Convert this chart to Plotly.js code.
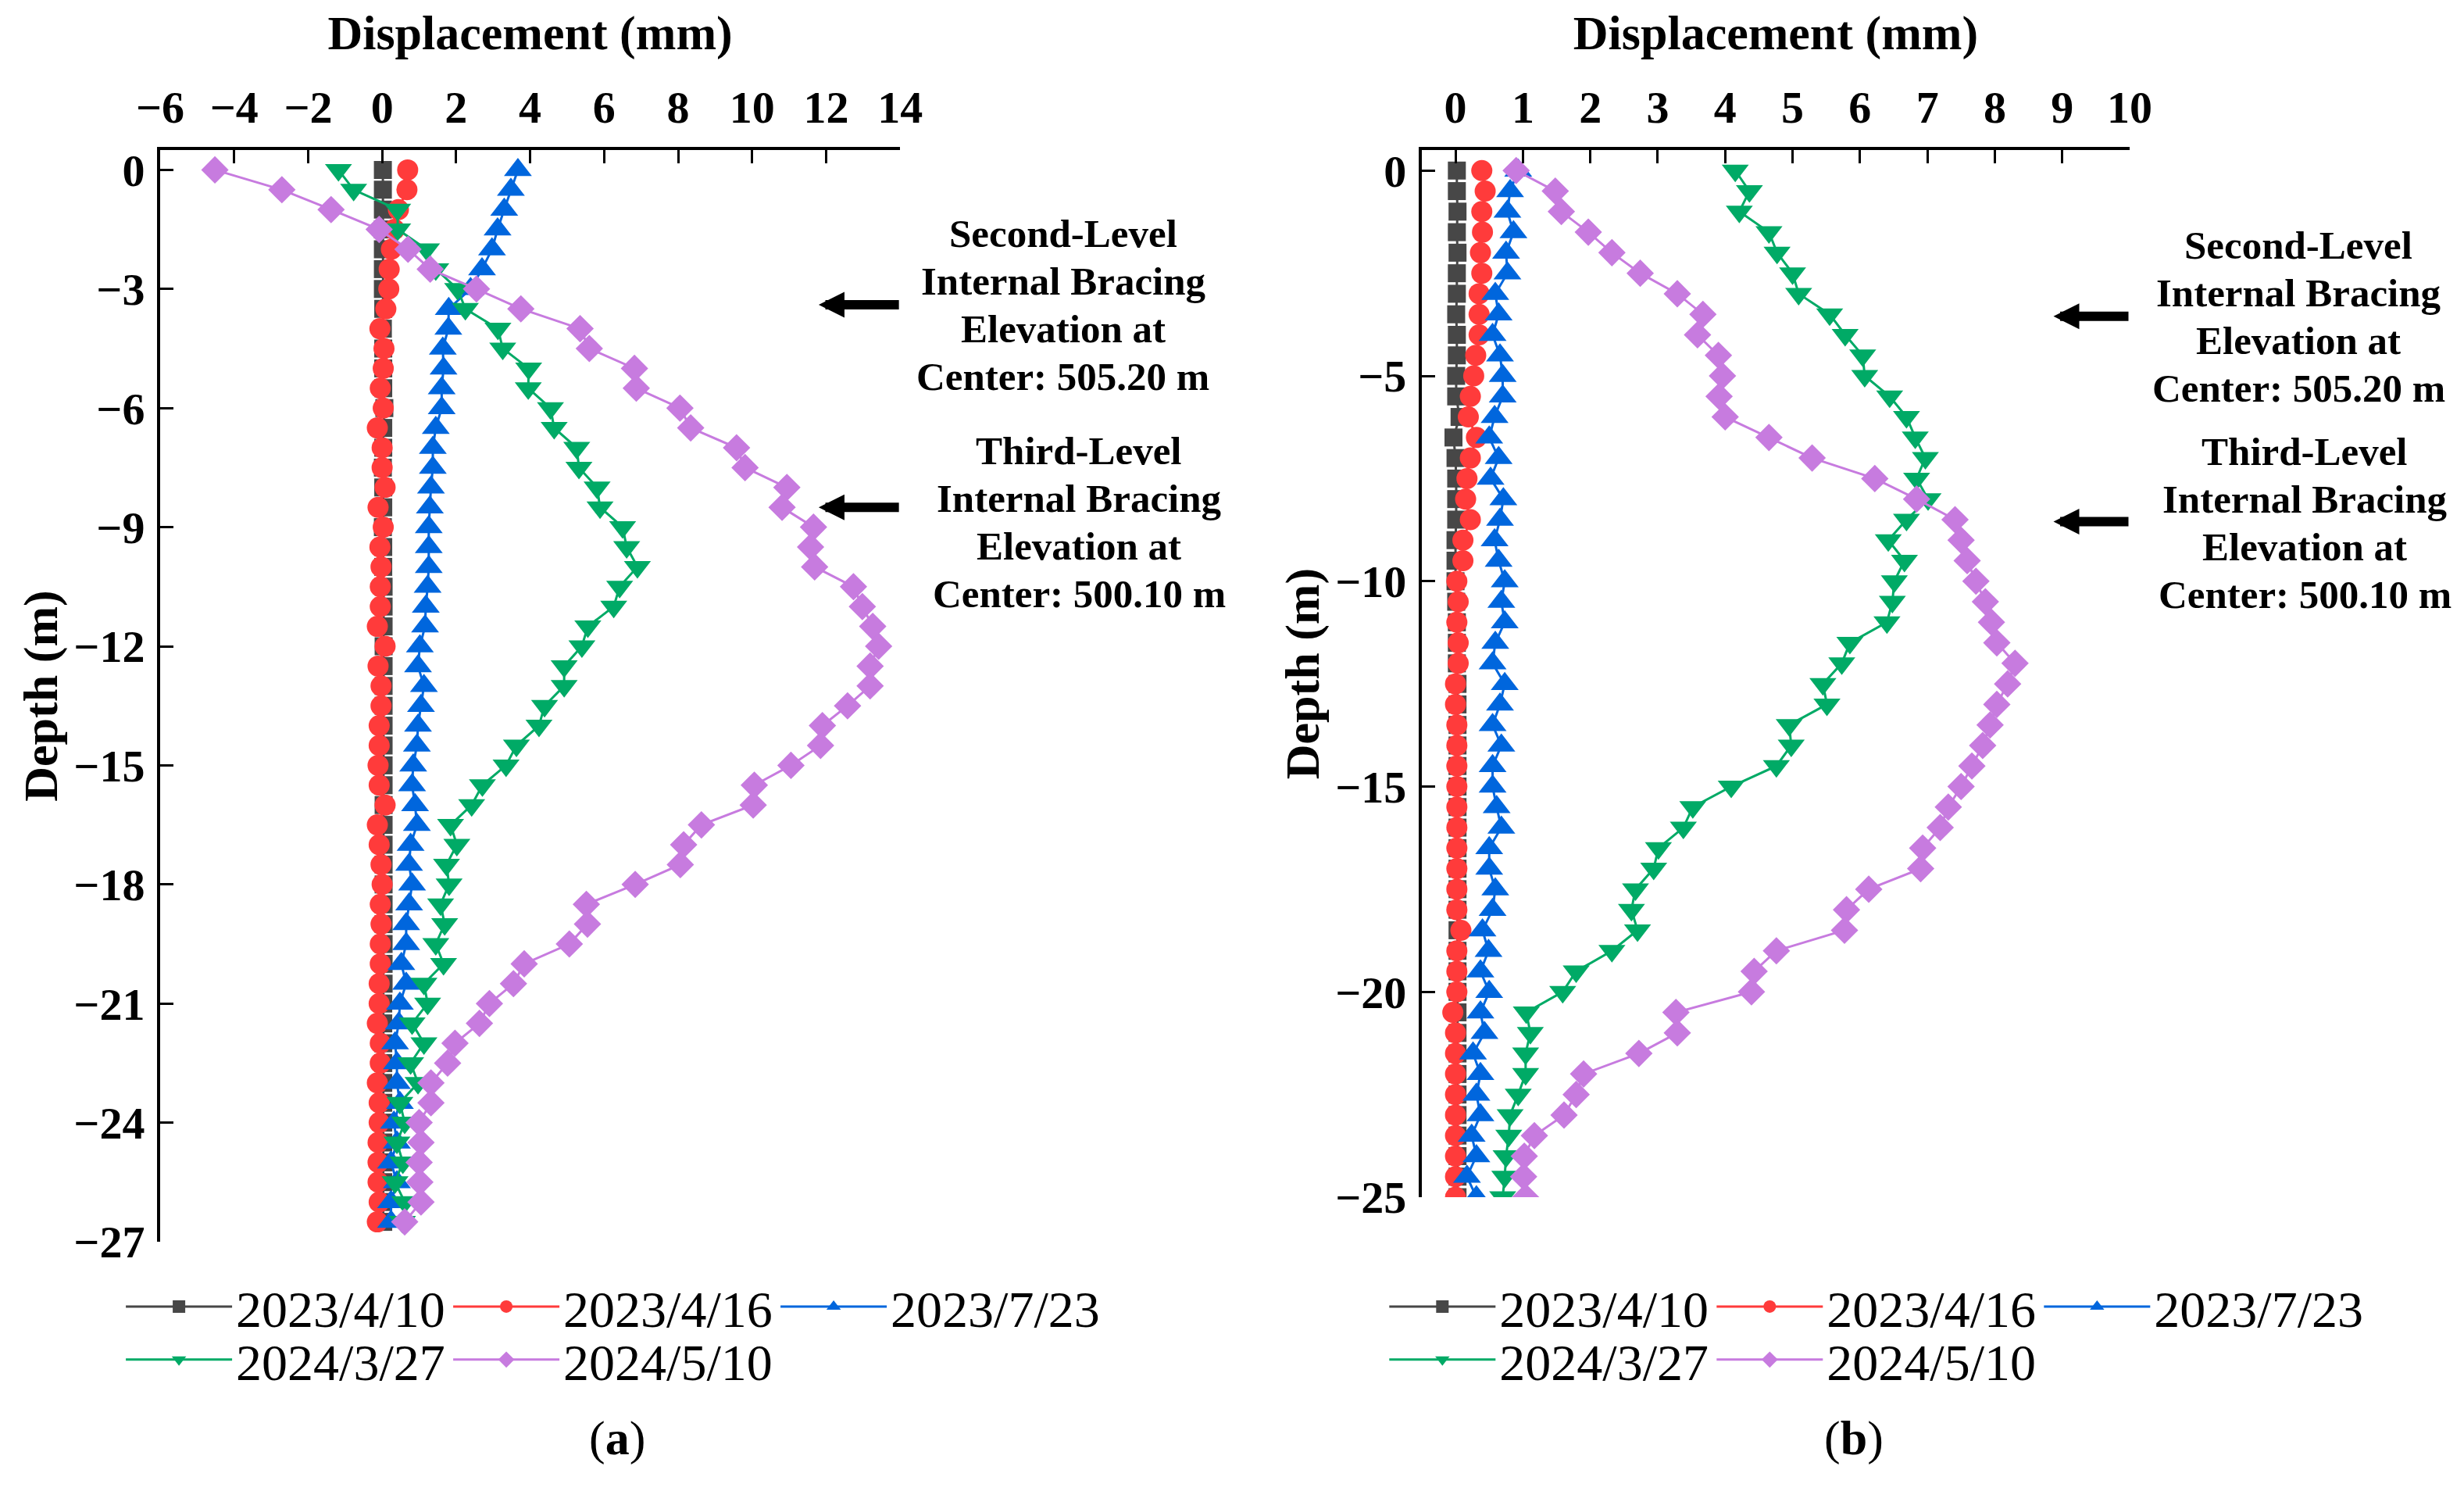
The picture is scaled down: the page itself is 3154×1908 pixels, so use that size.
<!DOCTYPE html>
<html>
<head>
<meta charset="utf-8">
<script src="https://cdn.plot.ly/plotly-3.0.1.min.js"></script>
<style>
  html, body { margin: 0; padding: 0; background: #fff; }
  #myDiv { width: 3154px; height: 1908px; }
</style>
</head>
<body>
<div id="myDiv"></div>
<script>
// measuring dates (legend labels)
let dates = ["2023/4/10", "2023/4/16", "2023/7/23", "2024/3/27", "2024/5/10"];

// depth of the measuring points (m)
let depthA = [0, -0.5, -1, -1.5, -2, -2.5, -3, -3.5, -4, -4.5, -5, -5.5, -6, -6.5, -7, -7.5, -8, -8.5, -9, -9.5,
  -10, -10.5, -11, -11.5, -12, -12.5, -13, -13.5, -14, -14.5, -15, -15.5, -16, -16.5, -17, -17.5, -18, -18.5, -19, -19.5,
  -20, -20.5, -21, -21.5, -22, -22.5, -23, -23.5, -24, -24.5, -25, -25.5, -26, -26.5];
let depthB = [0, -0.5, -1, -1.5, -2, -2.5, -3, -3.5, -4, -4.5, -5, -5.5, -6, -6.5, -7, -7.5, -8, -8.5, -9, -9.5,
  -10, -10.5, -11, -11.5, -12, -12.5, -13, -13.5, -14, -14.5, -15, -15.5, -16, -16.5, -17, -17.5, -18, -18.5, -19, -19.5,
  -20, -20.5, -21, -21.5, -22, -22.5, -23, -23.5, -24, -24.5, -25];

// panel (a) displacement (mm)
let a0410 = [0.02, 0.02, 0.02, 0.02, 0.02, 0.02, 0.02, 0.03, 0.02, 0.03, 0.03, 0.03, 0.06, 0.03, 0.03, 0.02, 0.03, 0.03, 0.02, 0.03,
  0.03, 0.04, 0.04, 0.04, 0.04, 0.04, 0.04, 0.04, 0.04, 0.04, 0.04, 0.04, 0.04, 0.04, 0.04, 0.04, 0.04, 0.04, 0.04, 0.04,
  0.04, 0.04, 0.03, 0.03, 0.03, 0.03, 0.03, 0.03, 0.03, 0.03, 0.03, 0.03, 0.03, 0.03];
let a0416 = [0.69, 0.67, 0.44, 0.33, 0.25, 0.19, 0.18, 0.1, -0.06, 0.05, 0.03, -0.05, 0.03, -0.13, 0, 0, 0.08, -0.11, 0.03, -0.06,
  -0.03, -0.05, -0.05, -0.13, 0.08, -0.11, -0.03, -0.03, -0.08, -0.08, -0.11, -0.08, 0.08, -0.13, -0.08, -0.03, 0, -0.05, -0.03, -0.05,
  -0.05, -0.08, -0.08, -0.13, -0.05, -0.05, -0.13, -0.08, -0.08, -0.11, -0.11, -0.11, -0.08, -0.13];
let a0723 = [3.67, 3.48, 3.3, 3.12, 2.97, 2.7, 2.39, 1.8, 1.79, 1.64, 1.66, 1.61, 1.61, 1.45, 1.37, 1.37, 1.32, 1.29, 1.26, 1.26,
  1.26, 1.23, 1.18, 1.16, 1.02, 0.97, 1.13, 1.05, 0.97, 0.94, 0.84, 0.81, 0.89, 0.94, 0.77, 0.73, 0.81, 0.73, 0.65, 0.65,
  0.52, 0.65, 0.48, 0.45, 0.35, 0.4, 0.4, 0.48, 0.32, 0.4, 0.24, 0.4, 0.24, 0.24];
let a0327 = [-1.18, -0.77, 0.42, 0.42, 1.2, 1.45, 2.04, 2.25, 3.13, 3.26, 3.96, 3.95, 4.55, 4.65, 5.26, 5.32, 5.81, 5.89, 6.5, 6.61,
  6.9, 6.42, 6.26, 5.56, 5.4, 4.92, 4.92, 4.39, 4.24, 3.63, 3.35, 2.71, 2.42, 1.85, 2.02, 1.74, 1.81, 1.58, 1.69, 1.45,
  1.66, 1.13, 1.23, 0.81, 1.13, 0.77, 0.97, 0.48, 0.61, 0.4, 0.56, 0.35, 0.61, 0.55];
let a0510 = [-4.52, -2.71, -1.38, -0.08, 0.7, 1.3, 2.55, 3.75, 5.35, 5.6, 6.82, 6.87, 8.05, 8.34, 9.58, 9.81, 10.94, 10.81, 11.66, 11.58,
  11.69, 12.74, 12.98, 13.26, 13.42, 13.19, 13.19, 12.58, 11.9, 11.85, 11.05, 10.06, 10.03, 8.63, 8.15, 8.06, 6.84, 5.52, 5.55, 5.06,
  3.84, 3.55, 2.9, 2.63, 1.97, 1.77, 1.32, 1.32, 1.0, 1.05, 1.0, 1.02, 1.05, 0.61];

// panel (b) displacement (mm)
let b0410 = [0.02, 0.02, 0.03, 0.02, 0.03, 0.02, 0.02, 0.01, 0.02, 0.02, 0.01, 0.01, 0.06, -0.03, 0, 0.01, 0.01, 0.01, 0, 0,
  0, 0.01, 0.02, 0.02, 0.02, 0.03, 0.03, 0.03, 0.03, 0.03, 0.03, 0.03, 0.03, 0.03, 0.03, 0.03, 0.03, 0.03, 0.03, 0.03,
  0.03, 0.03, 0.03, 0.03, 0.03, 0.03, 0.03, 0.03, 0.03, 0.03, 0.03];
let b0416 = [0.39, 0.44, 0.39, 0.4, 0.37, 0.39, 0.35, 0.35, 0.35, 0.3, 0.27, 0.22, 0.19, 0.31, 0.22, 0.17, 0.15, 0.22, 0.11, 0.11,
  0.02, 0.04, 0.02, 0.04, 0.04, 0, 0, 0.02, 0.02, 0.02, 0.02, 0.02, 0.02, 0.02, 0.02, 0.02, 0.02, 0.08, 0.02, 0.02,
  0.02, -0.04, 0, 0, 0, 0, 0, 0, 0, 0, 0];
let b0723 = [0.93, 0.81, 0.77, 0.86, 0.75, 0.77, 0.59, 0.64, 0.55, 0.66, 0.7, 0.7, 0.58, 0.5, 0.64, 0.52, 0.71, 0.66, 0.58, 0.64,
  0.73, 0.68, 0.73, 0.59, 0.55, 0.73, 0.66, 0.55, 0.68, 0.55, 0.55, 0.61, 0.68, 0.5, 0.5, 0.59, 0.55, 0.4, 0.49, 0.37,
  0.5, 0.37, 0.43, 0.26, 0.37, 0.31, 0.37, 0.24, 0.31, 0.17, 0.31];
let b0327 = [4.15, 4.36, 4.21, 4.65, 4.77, 5.0, 5.09, 5.55, 5.78, 6.04, 6.07, 6.44, 6.69, 6.82, 6.97, 6.84, 7.01, 6.69, 6.42, 6.66,
  6.51, 6.48, 6.4, 5.85, 5.73, 5.45, 5.51, 4.95, 4.98, 4.76, 4.09, 3.52, 3.38, 3.01, 2.94, 2.67, 2.61, 2.7, 2.32, 1.79,
  1.59, 1.05, 1.11, 1.04, 1.04, 0.93, 0.81, 0.79, 0.75, 0.73, 0.7];
let b0510 = [0.9, 1.48, 1.57, 1.97, 2.32, 2.74, 3.29, 3.67, 3.59, 3.9, 3.96, 3.91, 4.0, 4.65, 5.29, 6.22, 6.84, 7.41, 7.5, 7.59,
  7.72, 7.86, 7.95, 8.03, 8.3, 8.19, 8.03, 7.93, 7.82, 7.66, 7.5, 7.31, 7.19, 6.93, 6.9, 6.13, 5.8, 5.77, 4.76, 4.43,
  4.39, 3.27, 3.29, 2.72, 1.9, 1.79, 1.61, 1.17, 1.02, 1.01, 1.04];

// internal bracing notes and the depth their arrows point at (m)
let noteLines = [
  ["Second-Level", "Internal Bracing", "Elevation at", "Center: 505.20 m"],
  ["Third-Level", "Internal Bracing", "Elevation at", "Center: 500.10 m"]
];
let bracingDepthA = [-3.4, -8.5];
let bracingDepthB = [-3.55, -8.55];

let colors = ["#474747", "#ff3b3b", "#0066dd", "#00aa66", "#c77bdf"];
let symbols = ["square", "circle", "triangle-up", "triangle-down", "diamond"];
let sizes = [23, 27, 31, 30, 27];

let serif = "Liberation Serif, Times New Roman, serif";

function makeTrace(i, x, y, xa, ya, legend) {
  return {
    x: x, y: y,
    xaxis: xa, yaxis: ya,
    type: 'scatter',
    mode: 'lines+markers',
    name: dates[i],
    legend: legend,
    line: {color: colors[i], width: 3},
    marker: {symbol: symbols[i], size: sizes[i], color: colors[i], line: {width: 0}}
  };
}

let data = [
  makeTrace(0, a0410, depthA, 'x', 'y', 'legend'),
  makeTrace(1, a0416, depthA, 'x', 'y', 'legend'),
  makeTrace(2, a0723, depthA, 'x', 'y', 'legend'),
  makeTrace(3, a0327, depthA, 'x', 'y', 'legend2'),
  makeTrace(4, a0510, depthA, 'x', 'y', 'legend2'),
  makeTrace(0, b0410, depthB, 'x2', 'y2', 'legend3'),
  makeTrace(1, b0416, depthB, 'x2', 'y2', 'legend3'),
  makeTrace(2, b0723, depthB, 'x2', 'y2', 'legend3'),
  makeTrace(3, b0327, depthB, 'x2', 'y2', 'legend4'),
  makeTrace(4, b0510, depthB, 'x2', 'y2', 'legend4')
];

let tickFont = {family: serif, size: 58, weight: 'bold', color: '#000'};
let titleFont = {family: serif, size: 62, weight: 'bold', color: '#000'};

function xAxis(domain, range, dtick, anchor) {
  return {
    domain: domain, range: range, dtick: dtick, tick0: 0, anchor: anchor,
    side: 'top', ticks: 'inside', ticklen: 17, tickwidth: 3, tickcolor: '#000',
    showline: true, linewidth: 4, linecolor: '#000', mirror: false,
    showgrid: false, zeroline: false,
    tickfont: tickFont, ticklabelstandoff: 8,
    title: {text: 'Displacement (mm)', font: titleFont, standoff: 22}
  };
}

function yAxis(domain, range, dtick, anchor) {
  return {
    domain: domain, range: range, dtick: dtick, tick0: 0, anchor: anchor,
    ticks: 'inside', ticklen: 17, tickwidth: 3, tickcolor: '#000',
    showline: true, linewidth: 4, linecolor: '#000', mirror: false,
    showgrid: false, zeroline: false,
    tickfont: tickFont, ticklabelstandoff: 4,
    title: {text: 'Depth (m)', font: titleFont, standoff: 2}
  };
}

function legendBox(x, y) {
  return {
    x: x, y: y, xanchor: 'left', yanchor: 'middle',
    orientation: 'h', bgcolor: 'rgba(0,0,0,0)', borderwidth: 0,
    font: {family: serif, size: 66, color: '#000'},
    itemwidth: 136, entrywidth: 268, entrywidthmode: 'pixels',
    itemclick: false, itemdoubleclick: false
  };
}

let annotations = [];
let noteFont = {family: serif, size: 51, weight: 'bold', color: '#000'};

// arrows pointing at the bracing level, tail on the right axis end
bracingDepthA.forEach(function(d) {
  annotations.push({xref: 'x', yref: 'y', axref: 'x', ayref: 'y', x: 11.8, y: d, ax: 14, ay: d,
    text: '', showarrow: true, arrowhead: 2, arrowsize: 0.55, arrowwidth: 12, arrowcolor: '#000'});
});
bracingDepthB.forEach(function(d) {
  annotations.push({xref: 'x2', yref: 'y2', axref: 'x2', ayref: 'y2', x: 8.87, y: d, ax: 10, ay: d,
    text: '', showarrow: true, arrowhead: 2, arrowsize: 0.55, arrowwidth: 12, arrowcolor: '#000'});
});

// note blocks: centre of each block in paper units, one line every 61 px
let notePos = [[0.4585, 0.8576], [0.4665, 0.6586], [1.0857, 0.8472], [1.0889, 0.6582]];
let linePitch = 61 / 1397;
notePos.forEach(function(p, i) {
  noteLines[i % 2].forEach(function(line, k) {
    annotations.push({xref: 'paper', yref: 'paper', x: p[0], y: p[1] + (1.5 - k) * linePitch,
      xanchor: 'center', yanchor: 'middle', text: line, showarrow: false, font: noteFont});
  });
});

// panel captions
annotations.push({xref: 'paper', yref: 'paper', x: 0.232, y: -0.1797, xanchor: 'center', yanchor: 'middle',
  text: '(<b>a</b>)', showarrow: false, font: {family: serif, size: 62, color: '#000'}});
annotations.push({xref: 'paper', yref: 'paper', x: 0.86, y: -0.1797, xanchor: 'center', yanchor: 'middle',
  text: '(<b>b</b>)', showarrow: false, font: {family: serif, size: 62, color: '#000'}});

let layout = {
  width: 3154,
  height: 1908,
  margin: {l: 205, r: 428, t: 192, b: 319},
  paper_bgcolor: '#fff',
  plot_bgcolor: '#fff',
  font: {family: serif, color: '#000'},
  xaxis: xAxis([0, 0.3757], [-6, 14], 2, 'y'),
  yaxis: yAxis([0, 1], [-27, 0.5], 3, 'x'),
  xaxis2: xAxis([0.6406, 1], [-0.5, 10], 1, 'y2'),
  yaxis2: yAxis([0.0408, 1], [-25, 0.5], 5, 'x2'),
  legend: legendBox(-0.0194, -0.0594),
  legend2: legendBox(-0.0194, -0.108),
  legend3: legendBox(0.6221, -0.0594),
  legend4: legendBox(0.6221, -0.108),
  annotations: annotations,
  showlegend: true
};

Plotly.newPlot('myDiv', data, layout, {staticPlot: true});
</script>
</body>
</html>
